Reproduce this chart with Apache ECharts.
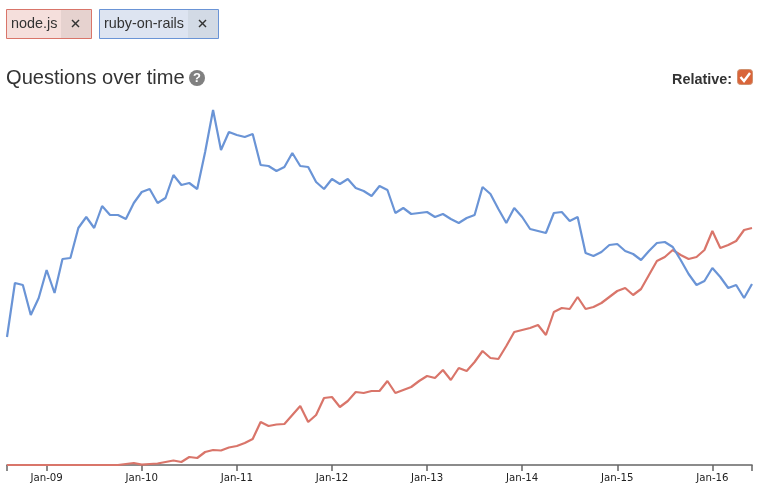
<!DOCTYPE html>
<html><head><meta charset="utf-8">
<style>html,body{margin:0;padding:0;background:#fff}#c{width:759px;height:499px}</style>
<script src="https://cdn.jsdelivr.net/npm/echarts@6/dist/echarts.min.js"></script>
</head><body><div id="c"></div>
<script>
const monthNames = ['Jan','Feb','Mar','Apr','May','Jun','Jul','Aug','Sep','Oct','Nov','Dec'];
const firstYear = 2008, firstMonth = 7, pointCount = 95;
const categories = [];
for (let i = 0; i < pointCount; i++) {
  const m = firstMonth + i;
  const y = firstYear + Math.floor(m / 12);
  categories.push(monthNames[m % 12] + '-' + String(y).slice(2));
}
const rubyOnRails = [128,182,180,150,167,195,172,206,207,237,248,237,259,250,250,246,262,273,276,262,267,290,280,282,276,313,355,315,333,330,328,331,
300,299,294,298,312,299,298,283,276,286,281,286,277,274,269,279,275,252,257,251,252,253,248,251,246,242,247,250,278,271,256,242,257,248,236,234,232,252,253,244,248,212,209,213,220,221,214,211,205,214,222,223,218,205,191,180,184,197,188,177,180,167,181];
const nodeJs = [0,0,0,0,0,0,0,0,0,0,0,0,0,0,0,1,2,0.3,1,1.5,3,4.5,3,8,7,13,15,14.5,17.5,19,22,26,43,39,40.5,41,50,59,43,50,67,68,58,64,73,72,74,74,84,72,75,78,84,89,87,95,85,97,94,103,114,107,106,119,133,135,137,140,130,153,157,156,168,156,158,162,168,174,177,170,176,190,204,208,215,210,206,208,215,234,217,220,224,235,237];
const RED = '#d9756a', BLUE = '#6a94d6', TXT = '#333';
const SANS = '"Liberation Sans", Arial, sans-serif';
function chip(x, w, xw, label, border, fill, fill2) {
  return [
    {type:'rect', shape:{x:x+0.5,y:9.5,width:w,height:29}, style:{fill:fill,stroke:null}},
    {type:'rect', shape:{x:x+xw,y:10,width:w-xw,height:28}, style:{fill:fill2,stroke:null}},
    {type:'rect', shape:{x:x+0.5,y:9.5,width:w,height:29}, style:{fill:'none',stroke:border,lineWidth:1}},
    {type:'text', x:x+5, y:24, style:{text:label,font:'14.4px '+SANS,fill:TXT,textVerticalAlign:'middle'}},
    {type:'polyline', shape:{points:[[x+xw+11,20],[x+xw+18,27]]}, style:{stroke:TXT,lineWidth:1.4,fill:'none'}},
    {type:'polyline', shape:{points:[[x+xw+18,20],[x+xw+11,27]]}, style:{stroke:TXT,lineWidth:1.4,fill:'none'}}
  ];
}
const graphics = [].concat(
  chip(6, 85, 55, 'node.js', RED, '#f5dfdc', '#e6d2cf'),
  chip(99, 119, 89, 'ruby-on-rails', BLUE, '#dde4f1', '#d2dae5'),
  [
    {type:'text', x:6, y:78, style:{text:'Questions over time',font:'20.1px '+SANS,fill:TXT,textVerticalAlign:'middle'}},
    {type:'circle', shape:{cx:197,cy:78,r:8}, style:{fill:'#808080'}},
    {type:'text', x:197, y:78.5, style:{text:'?',font:'bold 13px '+SANS,fill:'#fff',textAlign:'center',textVerticalAlign:'middle'}},
    {type:'text', x:732, y:80, style:{text:'Relative:',font:'bold 14.4px '+SANS,fill:TXT,textAlign:'right',textVerticalAlign:'middle'}},
    {type:'rect', shape:{x:737.5,y:69.5,width:15,height:15,r:3}, style:{fill:'#d9653a',stroke:'#d0916f',lineWidth:1}},
    {type:'polyline', shape:{points:[[740.5,77],[744,81],[750,73]]}, style:{stroke:'#fff',lineWidth:2.4,fill:'none'}}
  ]
);
const isTick = (i) => i === 0 || i === pointCount - 1 || categories[i].startsWith('Jan');
const chart = echarts.init(document.getElementById('c'), null, {renderer:'canvas'});
chart.setOption({
  animation:false,
  grid:{left:7,right:7,top:105,bottom:34,containLabel:false},
  xAxis:{type:'category',data:categories,boundaryGap:false,
    axisLine:{lineStyle:{color:'#666',width:1.6}},
    axisTick:{interval:(i)=>isTick(i),length:6,alignWithLabel:true,lineStyle:{color:'#666',width:1.5}},
    axisLabel:{interval:(i)=>categories[i].startsWith('Jan'),color:'#222',fontFamily:'"DejaVu Sans",sans-serif',fontSize:10.2,margin:8,hideOverlap:false},
    splitLine:{show:false}},
  yAxis:{type:'value',min:0,max:360,show:false,splitLine:{show:false}},
  series:[
    {name:'node.js',type:'line',data:nodeJs,showSymbol:false,smooth:false,clip:false,lineStyle:{color:RED,width:2.2},itemStyle:{color:RED}},
    {name:'ruby-on-rails',type:'line',data:rubyOnRails,showSymbol:false,smooth:false,clip:false,lineStyle:{color:BLUE,width:2.2},itemStyle:{color:BLUE}}
  ],
  graphic:{elements:graphics}
});
</script></body></html>
